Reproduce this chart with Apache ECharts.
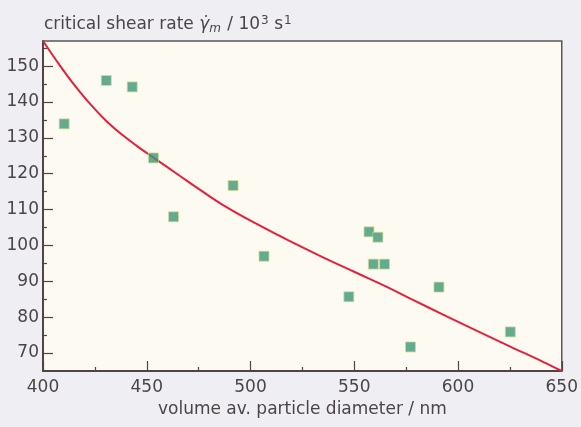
<!DOCTYPE html>
<html>
<head>
<meta charset="utf-8">
<script src="https://cdn.jsdelivr.net/npm/echarts@6/dist/echarts.min.js"></script>
<style>
html,body{margin:0;padding:0;background:#efeef3;}
#c{width:581px;height:427px;}
</style>
</head>
<body>
<div id="c"></div>
<script>
// measured points: volume av. particle diameter (nm) vs critical shear rate (10^3 s^-1)
var diameter = [410.2, 430.5, 443.0, 453.2, 462.9, 491.6, 506.5, 547.4, 557.1, 559.2, 561.4, 564.6, 577.1, 590.8, 625.2];
var shearRate = [133.9, 146.0, 144.2, 124.4, 108.0, 116.7, 97.0, 85.7, 103.8, 94.8, 102.3, 94.8, 71.7, 88.4, 75.9];
// red model curve
var curveX = [400, 408.1, 414.5, 422.5, 430.5, 438.5, 446.5, 454.5, 465.7, 475.2, 486.4, 502.3, 518.3, 534.2, 550.2, 566.2, 577.3, 593.3, 609.4, 625.2, 641.2, 650];
var curveY = [157, 150.2, 145.2, 139.6, 134.7, 130.7, 127.2, 124.0, 119.5, 115.7, 111.4, 106.2, 101.4, 96.9, 92.6, 88.3, 85.1, 80.6, 76.1, 71.8, 67.5, 65];
// axis ticks
var yMajorTicks = [70, 80, 90, 100, 110, 120, 130, 140, 150];
var yMinorTicks = [75, 85, 95, 105, 115, 125, 135, 145, 155];

var FONT = 'DejaVu Sans';
var TXT = '#4b4547';
var AX = '#4f4545';

var chart = echarts.init(document.getElementById('c'));
chart.setOption({
  backgroundColor: '#efeef3',
  animation: false,
  title: {
    left: 39, top: 9,
    text: '{a|critical shear rate }{g|γ̇}{s|m}{a| / 10}{p|3}{a| s}{p|1}',
    textStyle: {
      fontWeight: 'normal',
      rich: {
        a: {fontFamily: FONT, fontSize: 17, fontWeight: 'normal', color: TXT},
        g: {fontFamily: FONT, fontSize: 17, fontWeight: 'normal', color: TXT, fontStyle: 'italic'},
        s: {fontFamily: FONT, fontSize: 12, fontWeight: 'normal', color: TXT, fontStyle: 'italic', padding: [9, 1, 0, 0]},
        p: {fontFamily: FONT, fontSize: 12, fontWeight: 'normal', color: TXT, padding: [0, 0, 8, 1]}
      }
    }
  },
  grid: {
    left: 43, right: 16, top: 41, bottom: 56,
    show: true, backgroundColor: '#fdfaf1', borderColor: '#5e5555', borderWidth: 1.5
  },
  xAxis: {
    type: 'value', min: 400, max: 650, interval: 50,
    name: 'volume av. particle diameter / nm',
    nameLocation: 'middle', nameGap: 30,
    nameTextStyle: {fontFamily: FONT, fontSize: 17, color: TXT},
    axisLine: {show: true, lineStyle: {color: AX, width: 2}},
    axisTick: {show: true, inside: true, length: 10, lineStyle: {color: AX, width: 1.2}},
    minorTick: {show: true, splitNumber: 2, length: 4, lineStyle: {color: AX, width: 1.2}},
    axisLabel: {fontFamily: FONT, fontSize: 17, color: TXT, margin: 8},
    splitLine: {show: false}
  },
  yAxis: [{
    type: 'value', min: 65, max: 157,
    axisLine: {show: true, lineStyle: {color: AX, width: 2}},
    axisTick: {show: true, inside: true, length: 10, customValues: yMajorTicks, lineStyle: {color: AX, width: 1.2}},
    axisLabel: {fontFamily: FONT, fontSize: 17, color: TXT, margin: 4, customValues: yMajorTicks},
    splitLine: {show: false}
  }, {
    type: 'value', min: 65, max: 157, position: 'left', offset: 0,
    axisLine: {show: false},
    axisTick: {show: true, inside: true, length: 4, customValues: yMinorTicks, lineStyle: {color: AX, width: 1.2}},
    axisLabel: {show: false},
    splitLine: {show: false}
  }],
  series: [{
    type: 'line',
    data: curveX.map(function (x, i) { return [x, curveY[i]]; }),
    smooth: 0.4, showSymbol: false, symbol: 'none',
    lineStyle: {color: '#e5203d', width: 2},
    z: 2
  }, {
    type: 'scatter',
    data: diameter.map(function (x, i) { return [x, shearRate[i]]; }),
    symbol: 'rect', symbolSize: 10,
    itemStyle: {color: '#3c9677', borderColor: 'rgba(215,220,150,0.9)', borderWidth: 1},
    z: 3
  }]
});
</script>
</body>
</html>
